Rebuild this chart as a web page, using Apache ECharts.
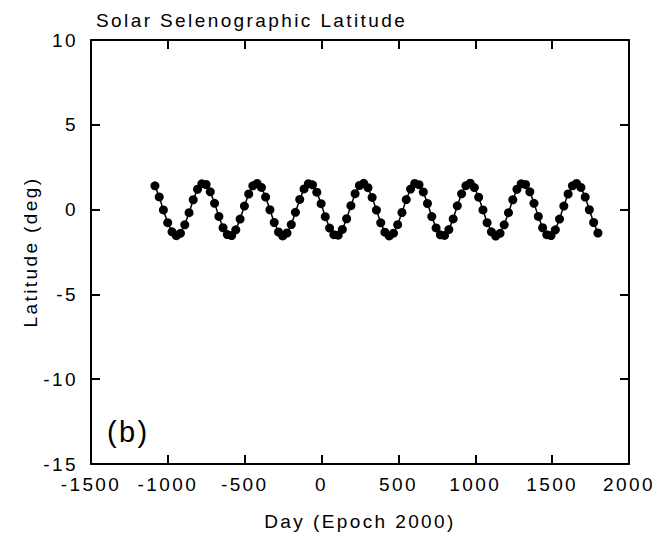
<!DOCTYPE html>
<html>
<head>
<meta charset="utf-8">
<script src="https://cdn.jsdelivr.net/npm/echarts@6/dist/echarts.min.js"></script>
<style>
  html, body { margin: 0; padding: 0; background: #fff; }
  #chart { width: 664px; height: 536px; }
  #chart text { letter-spacing: 2.4px; }
</style>
</head>
<body>
<div id="chart"></div>
<script>
const titleText = 'Solar Selenographic Latitude';
const xName = 'Day (Epoch 2000)';
const yName = 'Latitude (deg)';
const panelLabel = '(b)';
const xTicks = { min: -1500, max: 2000, interval: 500 };
const yTicks = { min: -15, max: 10, interval: 5 };

const days = [
  -1084, -1056, -1029, -1001, -973, -945, -918, -890, -862, -835,
  -807, -779, -751, -724, -696, -668, -641, -613, -585, -558,
  -530, -502, -474, -447, -419, -391, -364, -336, -308, -280,
  -253, -225, -197, -170, -142, -114, -86, -59, -31, -3,
  24, 52, 80, 108, 135, 163, 191, 218, 246, 274,
  302, 329, 357, 385, 412, 440, 468, 495, 523, 551,
  579, 606, 634, 662, 689, 717, 745, 773, 800, 828,
  856, 883, 911, 939, 967, 994, 1022, 1050, 1077, 1105,
  1133, 1161, 1188, 1216, 1244, 1271, 1299, 1327, 1355, 1382,
  1410, 1438, 1465, 1493, 1521, 1548, 1576, 1604, 1632, 1659,
  1687, 1715, 1742, 1770, 1798
];

const latitude = [
  1.40, 0.75, -0.02, -0.77, -1.31, -1.54, -1.40, -0.90, -0.18, 0.58,
  1.20, 1.52, 1.48, 1.05, 0.37, -0.40, -1.07, -1.47, -1.53, -1.19,
  -0.56, 0.21, 0.92, 1.40, 1.54, 1.31, 0.74, -0.01, -0.76, -1.32,
  -1.55, -1.38, -0.88, -0.16, 0.60, 1.22, 1.53, 1.46, 1.03, 0.35,
  -0.42, -1.09, -1.48, -1.51, -1.17, -0.54, 0.23, 0.94, 1.42, 1.55,
  1.29, 0.72, -0.03, -0.78, -1.33, -1.55, -1.39, -0.89, -0.17, 0.59,
  1.21, 1.54, 1.47, 1.04, 0.36, -0.41, -1.08, -1.49, -1.52, -1.18,
  -0.55, 0.22, 0.93, 1.41, 1.56, 1.30, 0.73, -0.02, -0.77, -1.31,
  -1.56, -1.40, -0.90, -0.18, 0.58, 1.20, 1.52, 1.48, 1.05, 0.37,
  -0.40, -1.07, -1.48, -1.53, -1.19, -0.56, 0.21, 0.92, 1.40, 1.54,
  1.31, 0.74, -0.01, -0.76, -1.38
];

const seriesData = days.map((d, i) => [d, latitude[i]]);

const FONT = "'Liberation Sans', Arial, sans-serif";
const FS = 19;
const lineStyle = { color: '#000', width: 2 };

function axisCommon(extra) {
  return Object.assign({
    type: 'value',
    splitLine: { show: false },
    axisLine: { show: true, onZero: false, lineStyle: lineStyle },
    axisTick: { show: true, inside: true, length: 9, lineStyle: lineStyle },
  }, extra);
}

const chart = echarts.init(document.getElementById('chart'), null, { renderer: 'svg' });
chart.setOption({
  animation: false,
  backgroundColor: '#fff',
  title: {
    text: titleText,
    left: 91, top: 6,
    textStyle: { fontFamily: FONT, fontSize: FS, fontWeight: 'normal', color: '#000' }
  },
  grid: { left: 91, right: 35, top: 40, bottom: 71, show: false },
  xAxis: [
    axisCommon({
      position: 'bottom',
      min: xTicks.min, max: xTicks.max, interval: xTicks.interval,
      name: xName, nameLocation: 'middle', nameGap: 48,
      nameTextStyle: { fontFamily: FONT, fontSize: FS, color: '#000' },
      axisLabel: { show: true, margin: 11, color: '#000', fontFamily: FONT, fontSize: FS,
        showMinLabel: true, showMaxLabel: true, formatter: v => String(v) }
    }),
    axisCommon({
      position: 'top',
      min: xTicks.min, max: xTicks.max, interval: xTicks.interval,
      axisLabel: { show: false }
    })
  ],
  yAxis: [
    axisCommon({
      position: 'left',
      min: yTicks.min, max: yTicks.max, interval: yTicks.interval,
      name: yName, nameLocation: 'middle', nameGap: 47, nameRotate: 90,
      nameTextStyle: { fontFamily: FONT, fontSize: FS, color: '#000' },
      axisLabel: { show: true, margin: 13, color: '#000', fontFamily: FONT, fontSize: FS,
        showMinLabel: true, showMaxLabel: true, formatter: v => String(v) }
    }),
    axisCommon({
      position: 'right',
      min: yTicks.min, max: yTicks.max, interval: yTicks.interval,
      axisLabel: { show: false }
    })
  ],
  graphic: [{
    type: 'text',
    left: 107, top: 417,
    style: { text: panelLabel, fontFamily: 'Liberation Sans', fontSize: 29, fill: '#000' }
  }],
  series: [{
    type: 'line',
    xAxisIndex: 0, yAxisIndex: 0,
    data: seriesData,
    symbol: 'circle',
    symbolSize: 9,
    showSymbol: true,
    itemStyle: { color: '#000' },
    lineStyle: { color: '#000', width: 1.5 },
    z: 3
  }]
});
</script>
</body>
</html>
